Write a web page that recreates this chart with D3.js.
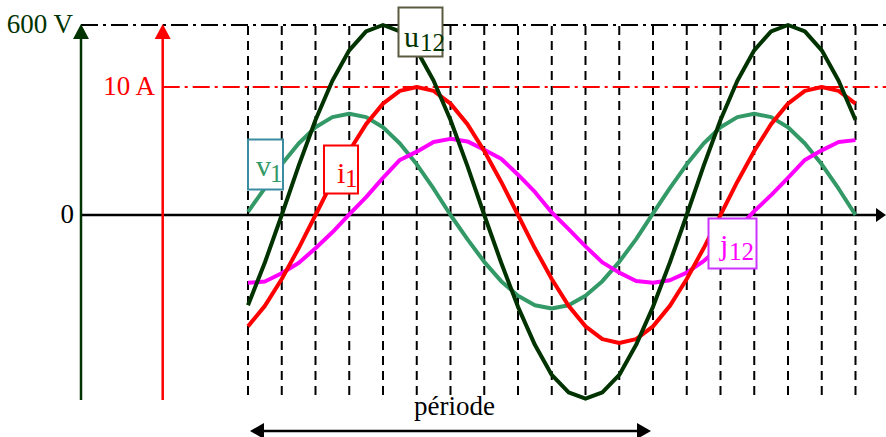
<!DOCTYPE html>
<html>
<head>
<meta charset="utf-8">
<script src="https://cdn.jsdelivr.net/npm/d3@7"></script>
<style>
  html, body { margin: 0; padding: 0; background: #fff; }
  svg { display: block; }
  text { font-family: "Liberation Serif", "Times New Roman", serif; }
</style>
</head>
<body>
<svg id="chart" width="886" height="437"></svg>
<script>
// ---- data ----
// phase angle in degrees (one vertical dashed line every 30°)
const angles = [0,15,30,45,60,75,90,105,120,135,150,165,180,195,210,225,240,255,270,285,300,315,330,345,360,375,390,405,420,435,450,465,480,495,510,525,540];
const gridAngles = [0,30,60,90,120,150,180,210,240,270,300,330,360,390,420,450,480,510,540];
// voltages (V)
const u12 = [-285,-150,0,155,300,424,520,580,600,580,520,424,300,155,0,-150,-290,-410,-505,-560,-580,-560,-505,-410,-290,-150,0,155,300,424,520,580,600,580,520,424,300];
const v1  = [10,85,160,226,277,309,320,309,277,226,160,83,0,-76,-148,-209,-255,-285,-295,-285,-255,-209,-148,-76,5,85,160,226,277,309,320,309,277,226,160,83,0];
// currents (A)
const i1  = [-8.7,-7.1,-5,-2.6,0,2.6,5,7.1,8.7,9.7,10,9.7,8.7,7.1,5,2.6,0,-2.6,-5,-7.1,-8.7,-9.7,-10,-9.7,-8.7,-7.1,-5,-2.6,0,2.6,5,7.1,8.7,9.7,10,9.7,8.7];
const j12 = [-5.3,-5.2,-4.55,-3.75,-2.6,-1.35,0.05,1.4,2.9,4.3,4.95,5.7,5.95,5.75,5.1,4.4,3.15,1.8,0.2,-1.1,-2.45,-3.7,-4.5,-5.15,-5.3,-5.1,-4.5,-3.6,-2.5,-1.1,0.3,1.55,2.9,4.3,5.05,5.7,5.85];
const voltRef = 600, voltRefLabel = "600 V";
const ampRef = 10, ampRefLabel = "10 A";
const zeroLabel = "0";
const periodLabel = "période";
const periodSpan = [0, 360];

// ---- colours ----
const C = {
  u12: "#003300", v1: "#339966", i1: "#ff0000", j12: "#ff00ff",
  v1Box: "#3a8ca0", u12Box: "#5a5a40", j12Box: "#cc33ff"
};

const svg = d3.select("#chart");
const x  = d3.scaleLinear().domain([0, 540]).range([248, 855.5]);
const yV = d3.scaleLinear().domain([0, voltRef]).range([215, 25]);
const yA = d3.scaleLinear().domain([0, ampRef]).range([215, 87]);
const yBottom = 400, xRight = 886;
const xAxV = 81, xAxA = 162.7;

// vertical dashed grid
svg.append("g").selectAll("line").data(gridAngles).join("line")
  .attr("x1", d => x(d)).attr("x2", d => x(d))
  .attr("y1", yV(voltRef) + 1).attr("y2", yBottom)
  .attr("stroke", "#000").attr("stroke-width", 2)
  .attr("stroke-dasharray", "9,6");

// reference dash-dot lines
svg.append("line").attr("x1", xAxV).attr("x2", xRight)
  .attr("y1", yV(voltRef)).attr("y2", yV(voltRef))
  .attr("stroke", "#000").attr("stroke-width", 2).attr("stroke-dasharray", "17,5,3,5");
svg.append("line").attr("x1", xAxA).attr("x2", xRight)
  .attr("y1", yA(ampRef)).attr("y2", yA(ampRef))
  .attr("stroke", C.i1).attr("stroke-width", 2).attr("stroke-dasharray", "17,5,3,5");

// zero axis with arrow
svg.append("line").attr("x1", 80).attr("x2", xRight - 8)
  .attr("y1", yV(0)).attr("y2", yV(0)).attr("stroke", "#000").attr("stroke-width", 2.5);
svg.append("path")
  .attr("d", `M${xRight},${yV(0)} L${xRight-10},${yV(0)-7} L${xRight-10},${yV(0)+7} Z`)
  .attr("fill", "#000");

// vertical axes with arrows
function vArrow(xp, color) {
  svg.append("line").attr("x1", xp).attr("x2", xp)
    .attr("y1", yBottom).attr("y2", yV(voltRef) + 12)
    .attr("stroke", color).attr("stroke-width", 2.5);
  const t = yV(voltRef) - 1;
  svg.append("path")
    .attr("d", `M${xp},${t} L${xp-8},${t+15} L${xp+8},${t+15} Z`)
    .attr("fill", color);
}
vArrow(xAxV, C.u12);
vArrow(xAxA, C.i1);

// axis labels
svg.append("text").attr("x", 73).attr("y", yV(voltRef) + 8)
  .attr("text-anchor", "end").attr("font-size", 27).attr("fill", C.u12).text(voltRefLabel);
svg.append("text").attr("x", 155).attr("y", yA(ampRef) + 8)
  .attr("text-anchor", "end").attr("font-size", 27).attr("fill", C.i1).text(ampRefLabel);
svg.append("text").attr("x", 74).attr("y", yV(0) + 8)
  .attr("text-anchor", "end").attr("font-size", 27).attr("fill", "#000").text(zeroLabel);

// curves
const lineV = d3.line().x((d, i) => x(angles[i])).y(d => yV(d));
const lineA = d3.line().x((d, i) => x(angles[i])).y(d => yA(d));
const curves = [
  { data: v1,  gen: lineV, color: C.v1 },
  { data: j12, gen: lineA, color: C.j12 },
  { data: i1,  gen: lineA, color: C.i1 },
  { data: u12, gen: lineV, color: C.u12 }
];
curves.forEach(c => {
  svg.append("path").attr("d", c.gen(c.data))
    .attr("fill", "none").attr("stroke", c.color)
    .attr("stroke-width", 4).attr("stroke-linejoin", "round");
});

// labelled boxes
function box(bx, by, bw, bh, stroke, color, main, sub, mx, my, msize, sx, sy, ssize) {
  svg.append("rect").attr("x", bx).attr("y", by).attr("width", bw).attr("height", bh)
    .attr("fill", "#fff").attr("stroke", stroke).attr("stroke-width", 2);
  svg.append("text").attr("x", mx).attr("y", my).attr("font-size", msize)
    .attr("fill", color).text(main);
  svg.append("text").attr("x", sx).attr("y", sy).attr("font-size", ssize)
    .attr("fill", color).text(sub);
}
box(248, 139.5, 35, 50, C.v1Box, C.v1, "v", "1", 256, 176, 30, 270, 182, 25);
box(324, 145.5, 34, 48, C.i1, C.i1, "i", "1", 337, 183, 30, 345, 187, 25);
box(398.5, 7.5, 44, 49, C.u12Box, C.u12, "u", "12", 404, 47, 30, 420, 50.5, 25);
box(708.5, 218.5, 48, 50, C.j12Box, C.j12, "j", "12", 720, 255, 30, 729, 260, 25);

// period arrow
const ay = 431, ax1 = x(periodSpan[0]) + 2, ax2 = x(periodSpan[1]) - 2;
svg.append("line").attr("x1", ax1 + 8).attr("x2", ax2 - 8).attr("y1", ay).attr("y2", ay)
  .attr("stroke", "#000").attr("stroke-width", 2.5);
svg.append("path").attr("d", `M${ax1},${ay} L${ax1+14},${ay-8} L${ax1+14},${ay+8} Z`).attr("fill", "#000");
svg.append("path").attr("d", `M${ax2},${ay} L${ax2-14},${ay-8} L${ax2-14},${ay+8} Z`).attr("fill", "#000");
svg.append("text").attr("x", (ax1 + ax2) / 2 + 4).attr("y", 415)
  .attr("text-anchor", "middle").attr("font-size", 27).attr("fill", "#000").text(periodLabel);
</script>
</body>
</html>
